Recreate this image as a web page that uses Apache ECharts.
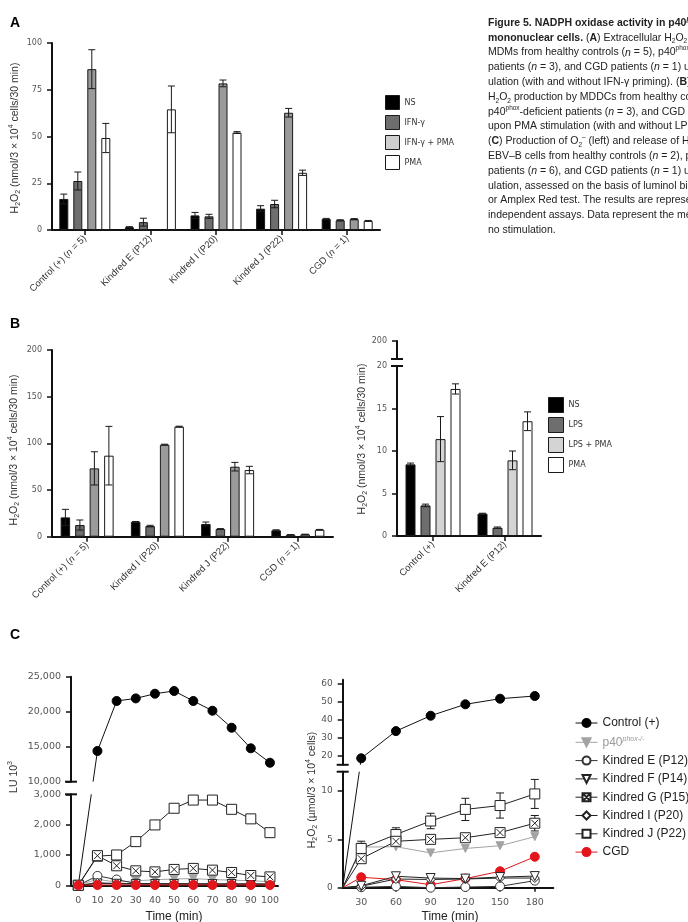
<!DOCTYPE html>
<html lang="en">
<head>
<meta charset="UTF-8">
<title>Figure 5. NADPH oxidase activity</title>
<script src="https://cdn.jsdelivr.net/npm/echarts@6/dist/echarts.min.js"></script>
<style>
  body { margin: 0; background: #fff; }
  #root { width: 688px; height: 922px; }
</style>
</head>
<body>
<div id="root"></div>
<script>
// ---- panel A: MDMs ----
var catsA = ['Control (+) (n = 5)', 'Kindred E (P12)', 'Kindred I (P20)', 'Kindred J (P22)', 'CGD (n = 1)'];
var nsA = [16.6, 1.5, 7.8, 11.4, 5.9];
var nsAErr = [2.6, 0.3, 1.6, 1.6, 0.3];
var ifnA = [26.2, 4.2, 7.3, 13.9, 5.2];
var ifnAErr = [4.8, 2.1, 1.1, 2.0, 0.3];
var ifnPmaA = [86, null, 78.4, 62.7, 5.8];
var ifnPmaAErr = [10.4, 0, 1.8, 2.3, 0.3];
var pmaA = [49.2, 64.5, 52.1, 30.6, 4.9];
var pmaAErr = [7.8, 12.5, 0.5, 1.4, 0.2];

// ---- panel B left: MDDCs ----
var catsB = ['Control (+) (n = 5)', 'Kindred I (P20)', 'Kindred J (P22)', 'CGD (n = 1)'];
var nsB = [20.7, 16, 13.6, 6.8];
var nsBErr = [8.6, 0.3, 2.1, 0.6];
var lpsB = [12.5, 11.4, 8.2, 2.1];
var lpsBErr = [5.4, 0.8, 0.5, 0.2];
var lpsPmaB = [73.2, 98.6, 75, 2.5];
var lpsPmaBErr = [17.8, 0.5, 4.6, 0.2];
var pmaB = [86.8, 117.9, 71.4, 7.5];
var pmaBErr = [31.4, 0.5, 4, 0.3];

// ---- panel B right ----
var catsBR = ['Control (+)', 'Kindred E (P12)'];
var nsBR = [8.43, 2.63];
var nsBRErr = [0.15, 0.05];
var lpsBR = [3.6, 0.98];
var lpsBRErr = [0.15, 0.08];
var lpsPmaBR = [11.4, 8.9];
var lpsPmaBRErr = [2.65, 1.1];
var pmaBR = [17.3, 13.5];
var pmaBRErr = [0.6, 1.1];

// ---- panel C left: luminol, LU 10^3 ----
var timeL = [0, 10, 20, 30, 40, 50, 60, 70, 80, 90, 100];
var ctrlL = [0, 14390, 21530, 21900, 22570, 22960, 21530, 20140, 17710, 14770, 12710];
var p40L = [0, 200, 100, 150, 180, 210, 220, 190, 170, 150, 120];
var kEL = [0, 310, 190, 60, 50, 40, 40, 40, 40, 40, 40];
var kFL = [0, 60, 50, 40, 40, 40, 40, 40, 40, 40, 30];
var kGL = [0, 977, 643, 477, 443, 523, 557, 500, 423, 323, 277];
var kIL = [0, 80, 60, 50, 50, 50, 50, 40, 40, 40, 40];
var kJL = [0, 960, 1000, 1440, 1990, 2540, 2810, 2810, 2505, 2190, 1735];
var cgdL = [0, 10, 10, 10, 10, 10, 10, 10, 10, 10, 10];

// ---- panel C right: Amplex red, umol/3x10^4 cells ----
var startR = 14;
var timeR = [30, 60, 90, 120, 150, 180];
var ctrlR = [18.6, 33.6, 42.1, 48.4, 51.5, 53];
var p40R = [4.2, 4.24, 3.6, 4.06, 4.34, 5.28];
var kER = [0.05, 0.14, 0, 0.07, 0.14, 0.73];
var kFR = [0.2, 1.18, 1.0, 0.94, 1.1, 1.2];
var kGR = [3.0, 4.8, 5.0, 5.17, 5.7, 6.67];
var kGRErr = [0.2, 0.2, 0.15, 0.15, 0.2, 0.8];
var kIR = [0.15, 0.9, 0.85, 0.9, 1.0, 1.0];
var kJR = [4.06, 5.5, 6.9, 8.1, 8.5, 9.7];
var kJRErr = [0.75, 0.7, 0.8, 1.15, 1.3, 1.5];
var cgdR = [1.08, 0.83, 0.31, 0.94, 1.7, 3.2];

var GRIDS = [
  { left: 52, top: 43, width: 328, height: 187 },          // A
  { left: 52, top: 350, width: 281, height: 186.7 },       // B left
  { left: 397, top: 341, width: 144, height: 18 },         // B right, upper
  { left: 397, top: 366, width: 144, height: 170 },        // B right, lower
  { left: 71, top: 676.7, width: 207, height: 105 },       // C left, upper
  { left: 71, top: 794.3, width: 207, height: 91 },        // C left, lower
  { left: 342.7, top: 679.7, width: 210.6, height: 85.1 }, // C right, upper
  { left: 342.7, top: 771.7, width: 210.6, height: 116 }   // C right, lower
];

var INK = '#111';
var AXLINE = { show: true, onZero: false, lineStyle: { color: INK, width: 2 } };
var TICK = { show: true, length: 5, lineStyle: { color: INK, width: 1.5 } };
var NUM = { fontFamily: 'DejaVu Sans', fontSize: 8, color: '#555' };

function italicN(v) { return v.replace('n =', '{i|n} ='); }

function catX(i, cats, show) {
  return {
    type: 'category', gridIndex: i, data: cats, show: show,
    axisLine: AXLINE,
    axisTick: { show: true, alignWithLabel: true, length: 5, lineStyle: { color: INK, width: 1.5 } },
    axisLabel: {
      rotate: 45, margin: 7, fontSize: 9.5, color: '#333', fontFamily: 'Liberation Sans',
      formatter: italicN,
      rich: { i: { fontStyle: 'italic', fontSize: 9.5, color: '#333', fontFamily: 'Liberation Sans' } }
    },
    splitLine: { show: false }
  };
}

function valY(i, min, max, interval, custom, size, fmt) {
  var ax = {
    type: 'value', gridIndex: i, min: min, max: max,
    axisLine: AXLINE,
    axisTick: Object.assign({}, TICK),
    axisLabel: Object.assign({}, NUM, { fontSize: size || 8, margin: 10 }),
    splitLine: { show: false }
  };
  if (interval) ax.interval = interval;
  if (custom) { ax.axisTick.customValues = custom; ax.axisLabel.customValues = custom; }
  if (fmt) ax.axisLabel.formatter = fmt;
  return ax;
}

function valX(i, min, max, custom, show) {
  return {
    type: 'value', gridIndex: i, min: min, max: max, show: show,
    axisLine: AXLINE,
    axisTick: { show: true, length: 4, customValues: custom, lineStyle: { color: INK, width: 1.5 } },
    axisLabel: Object.assign({}, NUM, { fontSize: 9.5, margin: 10, customValues: custom }),
    splitLine: { show: false }
  };
}

function bars(name, data, i, color, bw, gap) {
  return {
    type: 'bar', name: name, data: data, xAxisIndex: i, yAxisIndex: i,
    barWidth: bw, barGap: (gap / bw * 100) + '%',
    itemStyle: { color: color, borderColor: '#1a1a1a', borderWidth: 1 },
    emphasis: { disabled: true }
  };
}

function barErr(vals, errs, i, k, bw, gap) {
  return {
    type: 'custom', xAxisIndex: i, yAxisIndex: i, silent: true, z: 3,
    data: vals.map(function (v, j) { return [j, v == null ? NaN : v, errs[j]]; }),
    renderItem: function (params, api) {
      var v = api.value(1), e = api.value(2);
      if (isNaN(v) || !e) return;
      var off = -(4 * bw + 3 * gap) / 2 + bw / 2 + k * (bw + gap);
      var hi = api.coord([api.value(0), v + e]);
      var lo = api.coord([api.value(0), Math.max(v - e, 0)]);
      var x = hi[0] + off;
      var st = { stroke: '#1a1a1a', lineWidth: 1 };
      return { type: 'group', children: [
        { type: 'line', shape: { x1: x, y1: hi[1], x2: x, y2: lo[1] }, style: st },
        { type: 'line', shape: { x1: x - 3.5, y1: hi[1], x2: x + 3.5, y2: hi[1] }, style: st },
        { type: 'line', shape: { x1: x - 3.5, y1: lo[1], x2: x + 3.5, y2: lo[1] }, style: st }
      ]};
    }
  };
}

function pointErr(times, vals, errs, i) {
  return {
    type: 'custom', xAxisIndex: i, yAxisIndex: i, silent: true, z: 1,
    data: times.map(function (t, j) { return [t, vals[j], errs[j]]; }),
    renderItem: function (params, api) {
      var hi = api.coord([api.value(0), api.value(1) + api.value(2)]);
      var lo = api.coord([api.value(0), api.value(1) - api.value(2)]);
      var st = { stroke: '#1a1a1a', lineWidth: 1 };
      return { type: 'group', children: [
        { type: 'line', shape: { x1: hi[0], y1: hi[1], x2: lo[0], y2: lo[1] }, style: st },
        { type: 'line', shape: { x1: hi[0] - 4, y1: hi[1], x2: hi[0] + 4, y2: hi[1] }, style: st },
        { type: 'line', shape: { x1: lo[0] - 4, y1: lo[1], x2: lo[0] + 4, y2: lo[1] }, style: st }
      ]};
    }
  };
}

var STY = {
  'Control (+)': { symbol: 'circle', symbolSize: 9, itemStyle: { color: '#000', borderColor: '#000', borderWidth: 1 }, lineStyle: { color: INK, width: 1 } },
  'p40phox-/-': { symbol: 'triangle', symbolRotate: 180, symbolSize: 8, itemStyle: { color: '#a3a3a3', borderColor: '#a3a3a3', borderWidth: 1 }, lineStyle: { color: '#a3a3a3', width: 1 } },
  'Kindred E (P12)': { symbol: 'circle', symbolSize: 9, itemStyle: { color: '#fff', borderColor: '#333', borderWidth: 1 }, lineStyle: { color: '#333', width: 1 } },
  'Kindred F (P14)': { symbol: 'triangle', symbolRotate: 180, symbolSize: 9, itemStyle: { color: '#fff', borderColor: '#222', borderWidth: 1 }, lineStyle: { color: '#222', width: 1 } },
  'Kindred G (P15)': { symbol: 'path://M0 0H10V10H0Z M1.5 1.5L8.5 8.5 M8.5 1.5L1.5 8.5', symbolSize: 10, itemStyle: { color: '#fff', borderColor: '#222', borderWidth: 1 }, lineStyle: { color: '#222', width: 1 } },
  'Kindred I (P20)': { symbol: 'diamond', symbolSize: 9, itemStyle: { color: '#fff', borderColor: '#222', borderWidth: 1 }, lineStyle: { color: '#222', width: 1 } },
  'Kindred J (P22)': { symbol: 'rect', symbolSize: 10, itemStyle: { color: '#fff', borderColor: '#222', borderWidth: 1 }, lineStyle: { color: '#222', width: 1 } },
  'CGD': { symbol: 'circle', symbolSize: 9, itemStyle: { color: '#e3161b', borderColor: '#e3161b', borderWidth: 1 }, lineStyle: { color: '#e3161b', width: 1 } }
};

function line(name, data, i) {
  return Object.assign({
    type: 'line', name: name, data: data, xAxisIndex: i, yAxisIndex: i,
    clip: true, emphasis: { disabled: true }
  }, STY[name]);
}
function pts(times, vals) { return times.map(function (t, j) { return [t, vals[j]]; }); }
function ptsR(vals) { return [{ value: [startR, 0], symbol: 'none' }].concat(pts(timeR, vals)); }

var series = [];
// C left, lower section (first so the legend takes these styles)
series.push(line('Control (+)', pts(timeL.slice(0, 1), ctrlL.slice(0, 1)), 5));
series.push(line('p40phox-/-', pts(timeL, p40L), 5));
series.push(line('Kindred E (P12)', pts(timeL, kEL), 5));
series.push(line('Kindred F (P14)', pts(timeL, kFL), 5));
series.push(line('Kindred I (P20)', pts(timeL, kIL), 5));
series.push(line('Kindred J (P22)', pts(timeL, kJL), 5));
series.push(line('Kindred G (P15)', pts(timeL, kGL), 5));
series.push(line('CGD', pts(timeL, cgdL), 5));
// C left, upper section
series.push(line('Control (+)', pts(timeL.slice(1), ctrlL.slice(1)), 4));
// C right
series.push(line('Control (+)', pts(timeR, ctrlR), 6));
series.push(pointErr(timeR, kJR, kJRErr, 7));
series.push(pointErr(timeR, kGR, kGRErr, 7));
series.push(line('p40phox-/-', ptsR(p40R), 7));
series.push(line('CGD', ptsR(cgdR), 7));
series.push(line('Kindred E (P12)', ptsR(kER), 7));
series.push(line('Kindred I (P20)', ptsR(kIR), 7));
series.push(line('Kindred F (P14)', ptsR(kFR), 7));
series.push(line('Kindred J (P22)', ptsR(kJR), 7));
series.push(line('Kindred G (P15)', ptsR(kGR), 7));

// A
series.push(bars('NS', nsA, 0, '#000', 9, 5));
series.push(bars('IFN-γ', ifnA, 0, '#6e6e6e', 9, 5));
series.push(bars('IFN-γ + PMA', ifnPmaA, 0, '#9a9a9a', 9, 5));
series.push(bars('PMA', pmaA, 0, '#fff', 9, 5));
series.push(barErr(nsA, nsAErr, 0, 0, 9, 5));
series.push(barErr(ifnA, ifnAErr, 0, 1, 9, 5));
series.push(barErr(ifnPmaA, ifnPmaAErr, 0, 2, 9, 5));
series.push(barErr(pmaA, pmaAErr, 0, 3, 9, 5));
// B left
series.push(bars('NS', nsB, 1, '#000', 9.5, 5));
series.push(bars('LPS', lpsB, 1, '#6e6e6e', 9.5, 5));
series.push(bars('LPS + PMA', lpsPmaB, 1, '#9a9a9a', 9.5, 5));
series.push(bars('PMA', pmaB, 1, '#fff', 9.5, 5));
series.push(barErr(nsB, nsBErr, 1, 0, 9.5, 5));
series.push(barErr(lpsB, lpsBErr, 1, 1, 9.5, 5));
series.push(barErr(lpsPmaB, lpsPmaBErr, 1, 2, 9.5, 5));
series.push(barErr(pmaB, pmaBErr, 1, 3, 9.5, 5));
// B right
series.push(bars('NS', nsBR, 3, '#000', 10, 5));
series.push(bars('LPS', lpsBR, 3, '#6e6e6e', 10, 5));
series.push(bars('LPS + PMA', lpsPmaBR, 3, '#d4d4d4', 10, 5));
series.push(bars('PMA', pmaBR, 3, '#fff', 10, 5));
series.push(barErr(nsBR, nsBRErr, 3, 0, 10, 5));
series.push(barErr(lpsBR, lpsBRErr, 3, 1, 10, 5));
series.push(barErr(lpsPmaBR, lpsPmaBRErr, 3, 2, 10, 5));
series.push(barErr(pmaBR, pmaBRErr, 3, 3, 10, 5));

function box(name, color) {
  return { name: name, itemStyle: { color: color, borderColor: '#1a1a1a', borderWidth: 1 } };
}
var comma = function (v) { return v.toLocaleString('en-US'); };

var chart = echarts.init(document.getElementById('root'));
chart.setOption({
  animation: false,
  grid: GRIDS.map(function (g) { return Object.assign({ outerBoundsMode: 'none', containLabel: false }, g); }),
  xAxis: [
    catX(0, catsA, true),
    catX(1, catsB, true),
    catX(2, catsBR, false),
    catX(3, catsBR, true),
    valX(4, -3.8, 104.2, timeL, false),
    valX(5, -3.8, 104.2, timeL, true),
    valX(6, startR, 196, timeR, false),
    valX(7, startR, 196, timeR, true)
  ],
  yAxis: [
    valY(0, 0, 100, 25),
    valY(1, 0, 200, 50),
    valY(2, 190, 200, null, [200]),
    valY(3, 0, 20, 5),
    valY(4, 10000, 25000, 5000, null, 9.5, comma),
    valY(5, 0, 3000, 1000, null, 9.5, comma),
    valY(6, 15, 62, null, [20, 30, 40, 50, 60], 9),
    valY(7, 0, 12, null, [0, 5, 10], 9)
  ],
  legend: [
    {
      left: 385, top: 95, orient: 'vertical', icon: 'rect', itemWidth: 14, itemHeight: 14, itemGap: 5,
      selectedMode: false, padding: 0,
      textStyle: { fontFamily: 'DejaVu Sans', fontSize: 8, color: '#333' },
      data: [box('NS', '#000'), box('IFN-γ', '#6e6e6e'), box('IFN-γ + PMA', '#cfcfcf'), box('PMA', '#fff')]
    },
    {
      left: 548, top: 397, orient: 'vertical', icon: 'rect', itemWidth: 15, itemHeight: 15, itemGap: 4,
      selectedMode: false, padding: 0,
      textStyle: { fontFamily: 'DejaVu Sans', fontSize: 8, color: '#333' },
      data: [box('NS', '#000'), box('LPS', '#6e6e6e'), box('LPS + PMA', '#d4d4d4'), box('PMA', '#fff')]
    },
    {
      left: 575, top: 717, orient: 'vertical', itemWidth: 22, itemHeight: 10, itemGap: 6.3,
      selectedMode: false, padding: 0,
      lineStyle: { width: 1 },
      textStyle: {
        fontFamily: 'Liberation Sans', fontSize: 12, color: '#222',
        rich: {
          g: { fontFamily: 'Liberation Sans', fontSize: 12, color: '#9a9a9a', lineHeight: 14 },
          gs: { fontFamily: 'Liberation Sans', fontSize: 7, fontStyle: 'italic', color: '#9a9a9a', verticalAlign: 'top', lineHeight: 8 }
        }
      },
      formatter: function (n) { return n.indexOf('p40') === 0 ? '{g|p40}{gs|phox-/-}' : n; },
      data: ['Control (+)', 'p40phox-/-', 'Kindred E (P12)', 'Kindred F (P14)', 'Kindred G (P15)', 'Kindred I (P20)', 'Kindred J (P22)', 'CGD']
    }
  ],
  series: series
});

// ---------- annotations ----------
var FF = 'Liberation Sans';
function tok(extra) { return Object.assign({ fontFamily: FF, fontSize: 10.5, fill: '#333' }, extra); }
var axisRich = {
  n: tok({ lineHeight: 14 }),
  sub: tok({ fontSize: 7, verticalAlign: 'bottom', lineHeight: 9 }),
  sup: tok({ fontSize: 7, verticalAlign: 'top', lineHeight: 9 })
};
function yTitle(x, y, text) {
  return {
    type: 'text', x: x, y: y, rotation: Math.PI / 2,
    style: { text: text, rich: axisRich, fontFamily: FF, fontSize: 10.5, fill: '#333', align: 'center', verticalAlign: 'middle' }
  };
}
function letter(x, y, t) {
  return { type: 'text', x: x, y: y, style: { text: t, fontFamily: FF, fontWeight: 'bold', fontSize: 14, fill: '#000', verticalAlign: 'middle' } };
}
var h2o2 = '{n|H}{sub|2}{n|O}{sub|2}';

var capLines = [
  '{b|Figure 5. NADPH oxidase activity in p40}{bs|phox}{b|-deficient}',
  '{b|mononuclear cells.} ({b|A}) Extracellular H{sub|2}O{sub|2} production by',
  'MDMs from healthy controls ({i|n} = 5), p40{sup|phox}-deficient',
  'patients ({i|n} = 3), and CGD patients ({i|n} = 1) upon PMA stim-',
  'ulation (with and without IFN-γ priming). ({b|B})',
  'H{sub|2}O{sub|2} production by MDDCs from healthy controls',
  'p40{sup|phox}-deficient patients ({i|n} = 3), and CGD patients',
  'upon PMA stimulation (with and without LPS',
  '({b|C}) Production of O{sub|2}{sup|–} (left) and release of H{sub|2}O{sub|2}',
  'EBV–B cells from healthy controls ({i|n} = 2), p40{sup|phox}',
  'patients ({i|n} = 6), and CGD patients ({i|n} = 1) upon PMA stim-',
  'ulation, assessed on the basis of luminol bioluminescence',
  'or Amplex Red test. The results are representative of',
  'independent assays. Data represent the mean ± SEM. NS,',
  'no stimulation.'
];
function ctok(extra) { return Object.assign({ fontFamily: FF, fontSize: 10.5, fill: '#222', lineHeight: 14.8 }, extra); }

var gfx = [
  letter(10, 23, 'A'), letter(10, 324, 'B'), letter(10, 635, 'C'),
  yTitle(15, 138, h2o2 + '{n| (nmol/3 × 10}{sup|4}{n| cells/30 min)}'),
  yTitle(14, 450, h2o2 + '{n| (nmol/3 × 10}{sup|4}{n| cells/30 min)}'),
  yTitle(362, 439, h2o2 + '{n| (nmol/3 × 10}{sup|4}{n| cells/30 min)}'),
  yTitle(14, 777, '{n|LU 10}{sup|3}'),
  yTitle(312, 790, h2o2 + '{n| (µmol/3 × 10}{sup|4}{n| cells)}'),
  { type: 'text', x: 174, y: 917, style: { text: 'Time (min)', fontFamily: FF, fontSize: 12, fill: '#222', align: 'center', verticalAlign: 'middle' } },
  { type: 'text', x: 450, y: 917, style: { text: 'Time (min)', fontFamily: FF, fontSize: 12, fill: '#222', align: 'center', verticalAlign: 'middle' } },
  {
    type: 'text', x: 488, y: 15.6,
    style: {
      text: capLines.join('\n'), fontFamily: FF, fontSize: 10.5, fill: '#222', lineHeight: 14.8, verticalAlign: 'top',
      rich: {
        b: ctok({ fontWeight: 'bold' }),
        i: ctok({ fontStyle: 'italic' }),
        sub: ctok({ fontSize: 6.5, verticalAlign: 'bottom', lineHeight: 10 }),
        sup: ctok({ fontSize: 6.5, verticalAlign: 'top', lineHeight: 9 }),
        bs: ctok({ fontSize: 6.5, fontWeight: 'bold', fontStyle: 'italic', verticalAlign: 'top', lineHeight: 9 })
      }
    }
  }
];

// caps at the axis breaks
[[2, 3], [4, 5], [6, 7]].forEach(function (p) {
  var up = GRIDS[p[0]], lo = GRIDS[p[1]];
  var yb = up.top + up.height, x = lo.left;
  [yb, lo.top].forEach(function (y) {
    gfx.push({ type: 'line', shape: { x1: x - 6, y1: y, x2: x + 6, y2: y }, style: { stroke: INK, lineWidth: 2 } });
  });
});

// control curve crossing the break (drawn piece by piece, like the original)
function px(i, pt) { return chart.convertToPixel({ xAxisIndex: i, yAxisIndex: i }, pt); }
function cross(a, b, yLoTop, yUpBot) {
  function xAt(y) { return a[0] + (b[0] - a[0]) * (y - a[1]) / (b[1] - a[1]); }
  var st = { stroke: INK, lineWidth: 1 };
  gfx.push({ type: 'line', shape: { x1: a[0], y1: a[1], x2: xAt(yLoTop), y2: yLoTop }, style: st });
  gfx.push({ type: 'line', shape: { x1: xAt(yUpBot), y1: yUpBot, x2: b[0], y2: b[1] }, style: st });
}
cross(px(5, [timeL[0], ctrlL[0]]), px(4, [timeL[1], ctrlL[1]]), GRIDS[5].top, GRIDS[4].top + GRIDS[4].height);
cross(px(7, [startR, 0]), px(6, [timeR[0], ctrlR[0]]), GRIDS[7].top, GRIDS[6].top + GRIDS[6].height);

chart.setOption({ graphic: gfx });
</script>
</body>
</html>
